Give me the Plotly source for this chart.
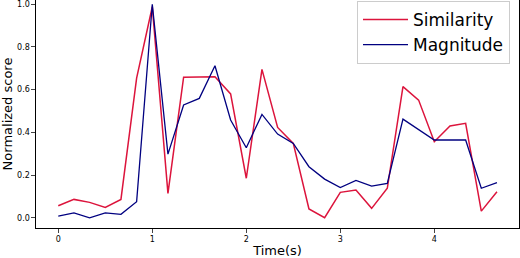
import plotly.graph_objects as go

time_s = [i / 6 for i in range(29)]
similarity = [0.056, 0.086, 0.072, 0.048, 0.086, 0.654, 0.988, 0.114, 0.658, 0.658,
              0.66, 0.58, 0.185, 0.695, 0.423, 0.348, 0.041, 0.0, 0.119, 0.13,
              0.044, 0.138, 0.614, 0.551, 0.356, 0.43, 0.442, 0.031, 0.122]
magnitude = [0.008, 0.023, 0.0, 0.023, 0.016, 0.075, 1.0, 0.298, 0.528, 0.559,
             0.712, 0.458, 0.328, 0.484, 0.392, 0.348, 0.239, 0.181, 0.141, 0.175,
             0.148, 0.161, 0.462, 0.411, 0.364, 0.364, 0.364, 0.138, 0.164]
x_ticks = [0, 1, 2, 3, 4]
y_ticks = [0.0, 0.2, 0.4, 0.6, 0.8, 1.0]

W, H = 520, 258
ML, MR, MT, MB = 36, 1, 0, 30
PW, PH = W - ML - MR, H - MT - MB


def px_x(px):
    return (px - ML) / PW


def px_y(py):
    return 1 - (py - MT) / PH


fig = go.Figure()
fig.add_trace(go.Scatter(x=time_s, y=similarity, mode="lines", name="Similarity",
                         line=dict(color="#DC143C", width=1.5)))
fig.add_trace(go.Scatter(x=time_s, y=magnitude, mode="lines", name="Magnitude",
                         line=dict(color="#000080", width=1.3)))

fig.update_layout(
    width=W, height=H,
    margin=dict(l=ML, r=MR, t=MT, b=MB, autoexpand=False),
    paper_bgcolor="white", plot_bgcolor="white",
    font=dict(family="DejaVu Sans", color="black"),
    legend=dict(x=px_x(357), y=px_y(1), xanchor="left", yanchor="top",
                bordercolor="#cccccc", borderwidth=1, bgcolor="white",
                font=dict(size=17), itemwidth=45, tracegroupgap=0),
)
fig.update_xaxes(range=[-0.237, 4.901], tickvals=x_ticks, ticktext=[str(v) for v in x_ticks],
                 showgrid=False, zeroline=False, showline=True, linecolor="black", linewidth=1.2,
                 ticks="outside", ticklen=3.5, tickwidth=1, tickfont=dict(size=8),
                 automargin=False,
                 title=dict(text="Time(s)", font=dict(size=13), standoff=2))
fig.update_yaxes(range=[-0.048, 1.0197], tickvals=y_ticks, ticktext=[f"{v:.1f}" for v in y_ticks],
                 showgrid=False, zeroline=False, showline=True, mirror=True, linecolor="black",
                 linewidth=1.2, ticks="outside", ticklen=3.5, tickwidth=1, tickfont=dict(size=8),
                 automargin=False,
                 title=dict(text="Normalized score", font=dict(size=13), standoff=2))

fig.write_html("out.html", config={"displayModeBar": False},
               post_script="document.body.style.margin='0';")
